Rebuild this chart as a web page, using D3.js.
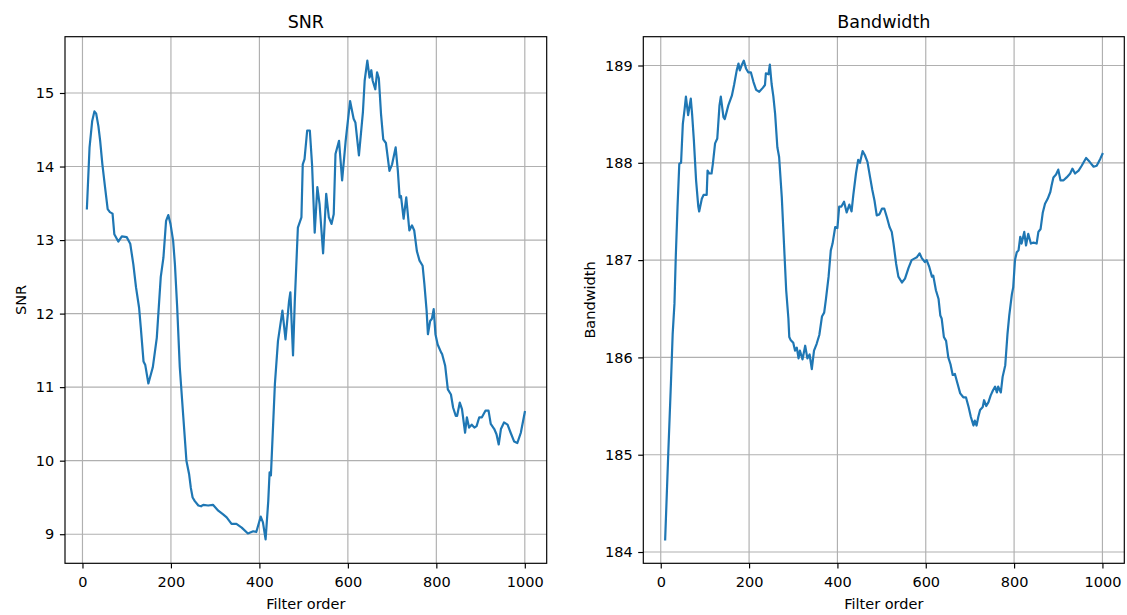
<!DOCTYPE html>
<html>
<head>
<meta charset="utf-8">
<script src="https://cdn.jsdelivr.net/npm/d3@7"></script>
<style>
  body { margin: 0; background: #fff; }
  svg { font-family: "DejaVu Sans", sans-serif; }
</style>
</head>
<body>
<svg width="1127" height="615"></svg>
<script>
// values
const snrOrder = [10,16,22,27,31,36,40,45,51,57,62,68,72,81,89,100,108,115,121,128,132,138,142,149,159,168,177,183,189,194,199,205,209,214,220,228,235,241,245,249,254,262,268,273,284,295,307,318,326,337,348,360,374,386,393,403,408,414,420,423,426,435,442,452,459,467,470,476,480,487,495,498,502,508,514,519,525,531,536,544,551,557,563,568,572,580,587,595,605,613,617,625,634,638,644,649,653,656,662,666,670,675,680,686,694,700,708,713,717,720,726,732,739,745,750,756,762,769,773,778,781,786,790,794,798,803,811,813,820,826,833,838,844,847,853,858,865,869,874,880,886,891,897,903,911,918,923,931,936,941,946,953,961,968,976,983,991,1000];
const snrValues = [13.43,14.26,14.62,14.75,14.72,14.55,14.35,14.03,13.72,13.42,13.38,13.36,13.08,12.98,13.05,13.04,12.95,12.67,12.36,12.08,11.8,11.35,11.30,11.05,11.27,11.67,12.5,12.76,13.26,13.34,13.22,12.99,12.67,12.1,11.27,10.59,10.0,9.82,9.63,9.50,9.45,9.39,9.38,9.40,9.39,9.40,9.32,9.27,9.23,9.14,9.14,9.09,9.01,9.04,9.03,9.24,9.16,8.93,9.45,9.84,9.80,11.04,11.63,12.04,11.65,12.17,12.29,11.43,12.17,13.17,13.31,14.03,14.1,14.49,14.49,14.03,13.10,13.72,13.49,12.82,13.63,13.31,13.22,13.35,14.17,14.35,13.81,14.35,14.89,14.65,14.6,14.15,14.74,15.17,15.44,15.21,15.31,15.17,15.05,15.28,15.2,14.71,14.37,14.32,13.94,14.03,14.26,13.94,13.58,13.6,13.29,13.58,13.13,13.2,13.13,12.85,12.72,12.65,12.40,12.04,11.72,11.9,11.93,12.06,11.72,11.58,11.47,11.45,11.29,10.97,10.90,10.72,10.61,10.61,10.79,10.70,10.38,10.59,10.45,10.49,10.45,10.47,10.59,10.59,10.68,10.68,10.50,10.43,10.36,10.22,10.43,10.52,10.49,10.38,10.26,10.24,10.38,10.66];

const bwOrder = [10,17,23,27,31,34,38,42,46,50,54,57,62,68,71,75,80,85,87,93,97,104,106,110,115,118,123,128,133,136,142,145,153,161,166,172,176,179,183,188,193,198,204,210,216,223,231,236,238,244,247,251,255,259,264,268,274,279,284,289,291,294,300,304,308,312,315,321,327,332,337,342,347,353,359,365,370,374,380,385,389,395,400,404,409,415,421,427,432,436,442,447,451,457,462,468,474,479,484,489,495,501,506,512,518,523,527,533,538,546,553,561,568,576,580,586,591,598,602,608,614,617,623,629,633,636,641,646,651,656,661,666,672,678,685,691,697,702,708,711,715,719,723,729,732,737,742,747,752,757,761,764,770,774,780,785,789,795,798,802,806,810,814,817,823,827,832,838,844,851,855,860,865,870,876,882,885,889,895,900,905,912,919,927,932,938,946,953,963,971,980,987,995,1000];
const bwValues = [184.13,185.01,185.73,186.24,186.55,187.03,187.55,187.99,188.0,188.40,188.55,188.68,188.49,188.66,188.5,188.23,187.82,187.55,187.5,187.63,187.67,187.67,187.92,187.89,187.89,187.99,188.20,188.25,188.59,188.68,188.47,188.45,188.59,188.69,188.80,188.95,189.02,188.95,189.0,189.05,188.97,188.93,188.93,188.83,188.75,188.73,188.77,188.8,188.92,188.91,189.01,188.81,188.68,188.5,188.16,188.06,187.65,187.17,186.69,186.4,186.21,186.18,186.15,186.07,186.1,185.99,186.07,185.98,186.12,185.99,186.03,185.88,186.07,186.14,186.23,186.42,186.46,186.6,186.83,187.10,187.17,187.34,187.33,187.55,187.55,187.60,187.49,187.57,187.5,187.67,187.89,188.03,188.0,188.12,188.08,188.01,187.85,187.72,187.61,187.46,187.47,187.53,187.53,187.44,187.34,187.29,187.17,186.96,186.83,186.77,186.81,186.92,187.0,187.02,187.03,187.07,187.02,186.98,187.0,186.93,186.83,186.84,186.69,186.6,186.43,186.4,186.21,186.17,186.0,185.93,185.82,185.83,185.73,185.63,185.59,185.59,185.49,185.39,185.30,185.35,185.30,185.39,185.46,185.49,185.56,185.5,185.54,185.61,185.66,185.7,185.64,185.70,185.64,185.80,185.92,186.24,186.43,186.65,186.72,187.0,187.08,187.1,187.24,187.17,187.29,187.15,187.27,187.17,187.18,187.17,187.29,187.32,187.49,187.58,187.63,187.70,187.77,187.85,187.88,187.93,187.82,187.82,187.85,187.89,187.94,187.89,187.92,187.97,188.05,188.01,187.96,187.97,188.04,188.09];

const orderTicks = [0, 200, 400, 600, 800, 1000];
const snrTicks = [9, 10, 11, 12, 13, 14, 15];
const bwTicks = [184, 185, 186, 187, 188, 189];

const svg = d3.select("svg");
const axTop = 36.7, axBottom = 563.3;

// matplotlib style 5% margins
const padded = vals => {
  const [lo, hi] = d3.extent(vals);
  const m = (hi - lo) * 0.05;
  return [lo - m, hi + m];
};

const drawPanel = (cfg) => {
  const x = d3.scaleLinear().domain(padded(cfg.xs)).range([cfg.left, cfg.right]);
  const y = d3.scaleLinear().domain(padded(cfg.ys)).range([axBottom, axTop]);
  const g = svg.append("g");
  const clipId = "clip-" + cfg.id;

  g.append("clipPath").attr("id", clipId)
    .append("rect")
    .attr("x", cfg.left).attr("y", axTop)
    .attr("width", cfg.right - cfg.left).attr("height", axBottom - axTop);

  // grid
  g.selectAll(".gx").data(orderTicks).enter().append("line")
    .attr("x1", d => x(d)).attr("x2", d => x(d))
    .attr("y1", axTop).attr("y2", axBottom)
    .attr("stroke", "#b0b0b0").attr("stroke-width", 1.17);
  g.selectAll(".gy").data(cfg.ticks).enter().append("line")
    .attr("y1", d => y(d)).attr("y2", d => y(d))
    .attr("x1", cfg.left).attr("x2", cfg.right)
    .attr("stroke", "#b0b0b0").attr("stroke-width", 1.17);

  const line = d3.line().x((d, i) => x(cfg.xs[i])).y(d => y(d));
  g.append("path")
    .datum(cfg.ys)
    .attr("clip-path", `url(#${clipId})`)
    .attr("fill", "none")
    .attr("stroke", "#1f77b4")
    .attr("stroke-width", 2.2)
    .attr("stroke-linejoin", "round")
    .attr("stroke-linecap", "square")
    .attr("d", line);

  const xAxis = g.append("g")
    .attr("transform", `translate(0,${axBottom})`)
    .call(d3.axisBottom(x).tickValues(orderTicks).tickFormat(d3.format("d")).tickSize(5.1).tickPadding(8.2));
  const yAxis = g.append("g")
    .attr("transform", `translate(${cfg.left},0)`)
    .call(d3.axisLeft(y).tickValues(cfg.ticks).tickFormat(d3.format("d")).tickSize(5.1).tickPadding(5.6));
  [xAxis, yAxis].forEach(a => {
    a.select(".domain").remove();
    a.selectAll(".tick line").attr("stroke", "#000").attr("stroke-width", 1.17);
    a.selectAll(".tick text")
      .attr("fill", "#000")
      .style("font-size", "14.5px")
      .style("font-family", "DejaVu Sans");
  });

  // spines
  g.append("rect")
    .attr("x", cfg.left).attr("y", axTop)
    .attr("width", cfg.right - cfg.left).attr("height", axBottom - axTop)
    .attr("fill", "none").attr("stroke", "#000").attr("stroke-width", 1.17);

  const cx = (cfg.left + cfg.right) / 2;
  g.append("text")
    .attr("x", cx).attr("y", 28)
    .attr("text-anchor", "middle")
    .style("font-size", "17.5px")
    .text(cfg.title);

  g.append("text")
    .attr("x", cx).attr("y", 609)
    .attr("text-anchor", "middle")
    .style("font-size", "14.5px")
    .text("Filter order");

  g.append("text")
    .attr("transform", `translate(${cfg.labelX},${(axTop + axBottom) / 2}) rotate(-90)`)
    .attr("text-anchor", "middle")
    .style("font-size", "14.5px")
    .text(cfg.ylabel);
};

drawPanel({
  id: "snr", xs: snrOrder, ys: snrValues, ticks: snrTicks,
  left: 65, right: 546.7, title: "SNR", ylabel: "SNR", labelX: 25.5
});

drawPanel({
  id: "bw", xs: bwOrder, ys: bwValues, ticks: bwTicks,
  left: 643.3, right: 1124.3, title: "Bandwidth", ylabel: "Bandwidth", labelX: 594.5
});
</script>
</body>
</html>
